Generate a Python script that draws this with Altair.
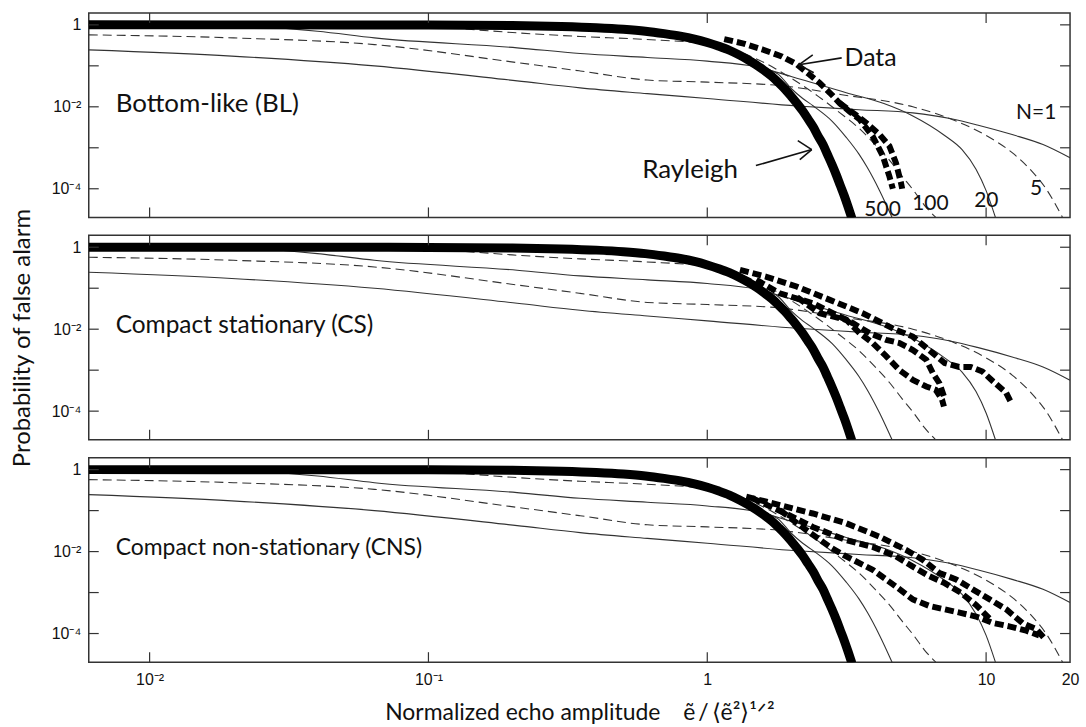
import altair as alt
import pandas as pd

# ---------------- values ----------------
# Rayleigh (thick solid)
ray_x = [0.00605, 0.05, 0.1, 0.2, 0.3, 0.4, 0.5, 0.6, 0.7, 0.8, 0.9, 1.0, 1.1, 1.2, 1.3, 1.4, 1.5,
         1.6, 1.7, 1.8, 1.9, 2.0, 2.1, 2.2, 2.3, 2.4, 2.5, 2.6, 2.7, 2.8, 2.9, 3.0, 3.1, 3.2, 3.3]
ray_p = [1.0, 0.997, 0.99, 0.96, 0.91, 0.85, 0.78, 0.70, 0.61, 0.53, 0.45, 0.37, 0.30, 0.24, 0.185,
         0.14, 0.105, 0.077, 0.056, 0.039, 0.027, 0.018, 0.012, 0.0079, 0.005, 0.0032, 0.0019,
         0.0012, 0.00068, 0.00039, 0.00022, 0.00012, 0.000067, 0.000036, 0.000019]

# curves for N scatterers (thin)
n500_x = [0.00605, 0.3, 0.6, 1.0, 1.3, 1.6, 1.8, 2.0, 2.2, 2.4, 2.8, 3.15, 3.5, 3.75, 4.15, 4.6]
n500_p = [0.999, 0.915, 0.70, 0.37, 0.19, 0.09, 0.062, 0.028, 0.016, 0.0105, 0.0045, 0.0018, 0.0007,
          0.00033, 0.00009, 0.00002]
n100_x = [0.00605, 0.05, 0.1, 0.15, 0.2, 0.35, 0.6, 1.0, 1.3, 1.6, 2.0, 2.5, 3.0, 3.5, 4.0, 4.5, 5.0,
          5.5, 6.0, 6.6]
n100_p = [1.0, 0.99, 0.92, 0.75, 0.65, 0.52, 0.44, 0.34, 0.22, 0.12, 0.05, 0.018, 0.007, 0.003,
          0.0012, 0.0005, 0.0002, 0.00009, 0.00004, 0.00002]
n20_x = [0.00605, 0.02, 0.04, 0.064, 0.208, 0.35, 0.61, 1.0, 1.5, 2.0, 3.15, 4.3, 5.46, 7.1, 8.2,
         9.2, 10.0, 10.8]
n20_p = [1.0, 0.95, 0.7, 0.48, 0.275, 0.2, 0.16, 0.13, 0.095, 0.055, 0.022, 0.012, 0.006, 0.002,
         0.0009, 0.0003, 0.00009, 0.00002]
n5_x = [0.00605, 0.02, 0.064, 0.208, 0.35, 0.61, 1.0, 1.82, 3.0, 5.46, 7.8, 10.0, 12.4, 14.5, 16.4, 18.8]
n5_p = [0.57, 0.48, 0.33, 0.12, 0.075, 0.045, 0.04, 0.033, 0.02, 0.01, 0.0045, 0.002, 0.00076,
        0.00028, 0.0001, 0.00002]
n1_x = [0.00605, 0.0197, 0.064, 0.208, 0.35, 0.61, 1.0, 2.1, 3.5, 5.46, 7.5, 9.3, 12.4, 16.0, 20.0]
n1_p = [0.245, 0.173, 0.1, 0.043, 0.029, 0.021, 0.016, 0.0105, 0.0085, 0.0071, 0.0051, 0.0036,
        0.0021, 0.0012, 0.00057]

# measured data (thick dashed), per panel
bl1_x = [1.15, 1.35, 1.58, 1.85, 2.09, 2.3, 2.53, 2.75, 2.98, 3.25, 3.52, 3.92, 4.26, 4.5, 4.63]
bl1_p = [0.45, 0.35, 0.25, 0.17, 0.11, 0.065, 0.038, 0.022, 0.0124, 0.0075, 0.0049, 0.0019, 0.00063,
         0.0002, 0.0001]
bl2_x = [2.98, 3.15, 3.45, 3.72, 4.15, 4.5, 4.75, 4.95, 5.0]
bl2_p = [0.0124, 0.0094, 0.006, 0.004, 0.0021, 0.0011, 0.00043, 0.00014, 0.0001]

cs1_x = [1.31, 1.63, 2.09, 2.75, 3.61, 4.75, 5.46, 6.44, 7.1, 8.0, 8.8, 9.7, 10.6, 11.8, 12.3]
cs1_p = [0.28, 0.19, 0.11, 0.052, 0.0245, 0.0096, 0.0066, 0.0026, 0.0015, 0.0012, 0.0012, 0.00093,
         0.00053, 0.00028, 0.00016]
cs2_x = [1.5, 1.82, 2.39, 2.82, 3.33, 3.82, 4.38, 4.89, 5.46, 6.1, 6.44, 6.8, 7.06]
cs2_p = [0.16, 0.075, 0.043, 0.0245, 0.014, 0.008, 0.0055, 0.0046, 0.0031, 0.0018, 0.00085, 0.00048,
         0.00023]
cs3_x = [2.1, 2.53, 3.15, 3.52, 3.92, 4.38, 4.89, 5.46, 6.1, 6.6, 6.95, 7.06]
cs3_p = [0.06, 0.0245, 0.017, 0.008, 0.0046, 0.0022, 0.001, 0.00058, 0.0004, 0.00033, 0.00019, 0.00013]

cns1_x = [1.38, 1.82, 2.39, 3.15, 4.15, 5.16, 5.93, 6.8, 7.8, 8.95, 10.3, 11.8, 13.5, 15.1, 16.1]
cns1_p = [0.22, 0.136, 0.085, 0.049, 0.023, 0.011, 0.0063, 0.003, 0.0021, 0.0012, 0.00068, 0.00039,
          0.00018, 0.00013, 0.00008]
cns2_x = [1.45, 1.91, 2.39, 3.15, 3.92, 4.75, 5.46, 6.26, 7.1, 8.1, 9.2, 10.5]
cns2_p = [0.2, 0.085, 0.04, 0.019, 0.013, 0.0076, 0.0043, 0.0025, 0.0017, 0.001, 0.0005, 0.0002]
cns3_x = [1.82, 2.26, 2.75, 3.15, 3.92, 4.75, 5.46, 6.26, 7.1, 8.1, 9.2, 10.6, 12.1, 13.8, 15.5]
cns3_p = [0.103, 0.034, 0.013, 0.0076, 0.0036, 0.0014, 0.00068, 0.00047, 0.00039, 0.00032, 0.00026,
          0.00018, 0.00015, 0.00012, 0.00009]

panel_titles = ["Bottom-like (BL)", "Compact stationary (CS)", "Compact non-stationary (CNS)"]
x_ticks = [0.01, 0.1, 1, 10]
x_label_vals = [0.01, 0.1, 1, 10, 20]
y_ticks = [1, 0.1, 0.01, 0.001, 0.0001]

# ---------------- tables ----------------
def frame(name, xs, ps):
    return pd.DataFrame({"x": xs, "p": ps, "curve": name})

ray_df = frame("Rayleigh", ray_x, ray_p)
solid_df = pd.concat([frame("500", n500_x, n500_p), frame("20", n20_x, n20_p), frame("1", n1_x, n1_p)])
dash_df = pd.concat([frame("100", n100_x, n100_p), frame("5", n5_x, n5_p)])
data_sets = [
    pd.concat([frame("a", bl1_x, bl1_p), frame("b", bl2_x, bl2_p)]),
    pd.concat([frame("a", cs1_x, cs1_p), frame("b", cs2_x, cs2_p), frame("c", cs3_x, cs3_p)]),
    pd.concat([frame("a", cns1_x, cns1_p), frame("b", cns2_x, cns2_p), frame("c", cns3_x, cns3_p)]),
]
yt_df = pd.DataFrame({"t": y_ticks})
xt_df = pd.DataFrame({"t": x_ticks})

W, H = 984, 205
XS = alt.Scale(type="log", domain=[0.00605, 20], nice=False, zero=False)
YS = alt.Scale(type="log", domain=[2e-5, 1.95], nice=False, zero=False)
FONT = "Lato"
TICKFONT = "Liberation Sans"
TITLE_SIZES = [26, 24.5, 23]

ylabel_expr = ("datum.value == 1 ? '1' : (abs(datum.value - 0.01) < 1e-9 ? '10\u207b\u00b2' : "
               "(abs(datum.value - 0.0001) < 1e-11 ? '10\u207b\u2074' : ''))")
xlabel_expr = ("datum.value == 1 ? '1' : (datum.value == 10 ? '10' : (datum.value == 20 ? '20' : "
               "(abs(datum.value - 0.1) < 1e-9 ? '10\u207b\u00b9' : '10\u207b\u00b2')))")


def panel(i):
    common = dict(values=y_ticks, labelExpr=ylabel_expr, ticks=False, domain=False, grid=False,
                  labelFont=TICKFONT, labelFontSize=16, labelPadding=8, labelColor="#111",
                  minExtent=48, maxExtent=48)
    if i == 1:
        yax = alt.Axis(titleFont=FONT, titleFontSize=24, titleFontWeight="normal", titlePadding=6,
                       titleColor="#111", **common)
        ytitle = "Probability of false alarm"
    else:
        yax = alt.Axis(title=None, **common)
        ytitle = None
    if i == 2:
        xax = alt.Axis(values=x_label_vals, labelExpr=xlabel_expr, ticks=False, domain=False, grid=False,
                       labelFont=TICKFONT, labelFontSize=16, labelPadding=9, labelFlush=False,
                       labelColor="#111", titleFont=FONT, titleFontSize=23, titleFontWeight="normal",
                       titlePadding=14, titleColor="#111",
                       title="Normalized echo amplitude\u2002\u2002\u1ebd\u2009/\u2009\u27e8\u1ebd\u00b2\u27e9\u00b9\u141f\u00b2")
    else:
        xax = None
    xenc = alt.X("x:Q", scale=XS, axis=xax)
    yenc = alt.Y("p:Q", scale=YS, axis=yax, title=ytitle)

    thin_solid = alt.Chart(solid_df).mark_line(clip=True, color="#333", strokeWidth=1.1,
                                               interpolate="monotone").encode(
        x=xenc, y=yenc, detail="curve:N")
    thin_dash = alt.Chart(dash_df).mark_line(clip=True, color="#333", strokeWidth=1.1, strokeDash=[9, 5],
                                             interpolate="monotone").encode(
        x=alt.X("x:Q", scale=XS), y=alt.Y("p:Q", scale=YS), detail="curve:N")
    thick = alt.Chart(ray_df).mark_line(clip=True, color="black", strokeWidth=9,
                                        interpolate="monotone").encode(
        x=alt.X("x:Q", scale=XS), y=alt.Y("p:Q", scale=YS))
    data = alt.Chart(data_sets[i]).mark_line(clip=True, color="black", strokeWidth=6, strokeDash=[9, 4],
                                             strokeCap="butt").encode(
        x=alt.X("x:Q", scale=XS), y=alt.Y("p:Q", scale=YS), detail="curve:N")

    tick_style = dict(color="#333", strokeWidth=1.2)
    yl = alt.Chart(yt_df).mark_rule(**tick_style).encode(y=alt.Y("t:Q", scale=YS), x=alt.value(0), x2=alt.value(10))
    yr = alt.Chart(yt_df).mark_rule(**tick_style).encode(y=alt.Y("t:Q", scale=YS), x=alt.value(W - 10), x2=alt.value(W))
    xb = alt.Chart(xt_df).mark_rule(**tick_style).encode(x=alt.X("t:Q", scale=XS), y=alt.value(H - 10), y2=alt.value(H))
    xtp = alt.Chart(xt_df).mark_rule(**tick_style).encode(x=alt.X("t:Q", scale=XS), y=alt.value(0), y2=alt.value(10))

    ttl = alt.Chart(pd.DataFrame({"t": [panel_titles[i]]})).mark_text(
        align="left", baseline="middle", font=FONT, fontSize=TITLE_SIZES[i], color="#111").encode(
        text="t:N", x=alt.value(27), y=alt.value(91))

    layers = [thin_solid, thin_dash, thick, data, yl, yr, xb, xtp, ttl]

    if i == 0:
        txt = dict(font=FONT, color="#111")
        ann = pd.DataFrame({"t": ["Data", "Rayleigh", "N=1", "5", "20", "100", "500"]})
        def lab(k, x, y, size):
            return alt.Chart(ann.iloc[[k]]).mark_text(align="center", baseline="middle", fontSize=size, **txt).encode(
                text="t:N", x=alt.value(x), y=alt.value(y))
        layers += [lab(0, 784, 45, 25), lab(1, 603, 157, 26), lab(2, 950, 100, 21),
                   lab(3, 950, 177, 21), lab(4, 900, 189, 21), lab(5, 844, 192, 21), lab(6, 796, 198, 21)]
        arrow = dict(color="#111", strokeWidth=1.6)
        seg = pd.DataFrame({"k": [0]})
        def line(x1, y1, x2, y2):
            return alt.Chart(seg).mark_rule(**arrow).encode(
                x=alt.value(x1), y=alt.value(y1), x2=alt.value(x2), y2=alt.value(y2))
        layers += [line(755, 45, 712, 52), line(712, 52, 726, 42), line(712, 52, 727, 60),
                   line(669, 153, 725, 137), line(725, 137, 711, 128), line(725, 137, 713, 147)]

    return alt.layer(*layers).properties(width=W, height=H)


chart = alt.vconcat(panel(0), panel(1), panel(2), spacing=18, bounds="flush").properties(
    padding={"left": 10, "top": 10, "right": 6, "bottom": 2},
    background="white",
).configure_view(stroke="#333", strokeWidth=1.5)

chart.save("out.html", embed_options={"renderer": "svg", "actions": False})
